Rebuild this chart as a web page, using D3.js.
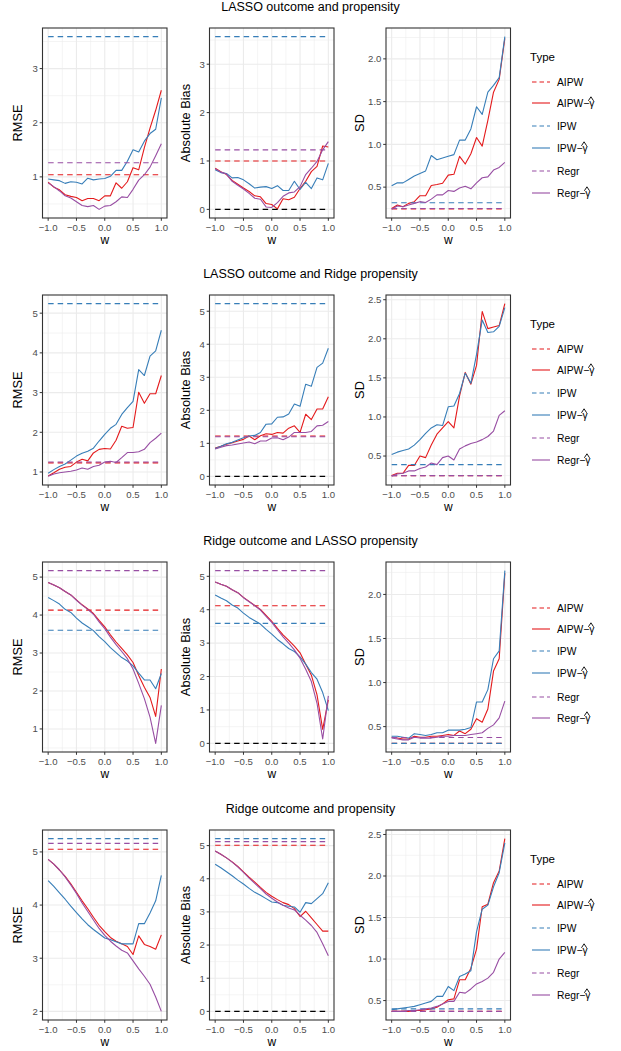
<!DOCTYPE html>
<html>
<head>
<meta charset="utf-8">
<script src="https://cdn.jsdelivr.net/npm/d3@7"></script>
<style>
body { margin: 0; background: #fff; }
text { font-family: "Liberation Sans", Arial, sans-serif; }
</style>
</head>
<body>
<svg id="chart" width="621" height="1051"></svg>
<script>
// weights on the x axis
var w = [-1.0, -0.9, -0.8, -0.7, -0.6, -0.5, -0.4, -0.3, -0.2, -0.1, 0.0, 0.1, 0.2, 0.3, 0.4, 0.5, 0.6, 0.7, 0.8, 0.9, 1.0];
var xTicks = [-1.0, -0.5, 0.0, 0.5, 1.0];

var rowTitles = ['LASSO outcome and propensity', 'LASSO outcome and Ridge propensity',
  'Ridge outcome and LASSO propensity', 'Ridge outcome and propensity'];
var metrics = ['RMSE', 'Absolute Bias', 'SD'];
var typeNames = ['AIPW', 'IPW', 'Regr'];

// baselines (dashed): [AIPW, IPW, Regr]
// ---- LASSO outcome and propensity
var lassoBothRmseBase = [1.04, 3.59, 1.26];
var lassoBothRmseAipw = [0.90, 0.81, 0.76, 0.67, 0.64, 0.62, 0.56, 0.60, 0.60, 0.56, 0.65, 0.65, 0.89, 0.79, 0.91, 1.17, 1.13, 1.54, 1.90, 2.23, 2.60];
var lassoBothRmseIpw = [0.96, 0.945, 0.93, 0.88, 0.91, 0.90, 0.87, 0.975, 0.945, 0.96, 0.97, 1.01, 1.12, 1.12, 1.29, 1.50, 1.46, 1.66, 1.80, 1.88, 2.46];
var lassoBothRmseRegr = [0.89, 0.82, 0.74, 0.65, 0.61, 0.54, 0.47, 0.45, 0.47, 0.40, 0.46, 0.47, 0.54, 0.63, 0.62, 0.77, 0.94, 1.04, 1.18, 1.39, 1.61];
var lassoBothBiasBase = [1.00, 3.57, 1.23];
var lassoBothBiasAipw = [0.85, 0.78, 0.72, 0.60, 0.52, 0.44, 0.37, 0.28, 0.26, 0.12, 0.10, 0.01, 0.22, 0.20, 0.25, 0.43, 0.58, 0.78, 0.89, 1.31, 1.29];
var lassoBothBiasIpw = [0.82, 0.76, 0.74, 0.65, 0.66, 0.61, 0.53, 0.44, 0.46, 0.47, 0.43, 0.49, 0.39, 0.39, 0.58, 0.41, 0.56, 0.43, 0.65, 0.61, 0.95];
var lassoBothBiasRegr = [0.84, 0.77, 0.73, 0.58, 0.50, 0.42, 0.33, 0.23, 0.21, 0.05, 0.04, 0.14, 0.27, 0.34, 0.36, 0.47, 0.72, 0.85, 0.99, 1.23, 1.40];
var lassoBothSdBase = [0.245, 0.317, 0.25];
var lassoBothSdAipw = [0.25, 0.29, 0.27, 0.31, 0.33, 0.40, 0.40, 0.52, 0.53, 0.545, 0.64, 0.65, 0.86, 0.77, 0.89, 1.08, 0.98, 1.28, 1.61, 1.76, 2.24];
var lassoBothSdIpw = [0.515, 0.55, 0.55, 0.59, 0.63, 0.66, 0.69, 0.87, 0.82, 0.84, 0.86, 0.88, 1.05, 1.05, 1.18, 1.44, 1.35, 1.61, 1.69, 1.78, 2.26];
var lassoBothSdRegr = [0.24, 0.28, 0.27, 0.29, 0.31, 0.33, 0.32, 0.36, 0.41, 0.41, 0.46, 0.45, 0.49, 0.51, 0.48, 0.55, 0.61, 0.62, 0.70, 0.73, 0.79];

// ---- LASSO outcome and Ridge propensity
var lassoRidgeRmseBase = [1.23, 5.24, 1.25];
var lassoRidgeRmseAipw = [0.90, 0.98, 1.07, 1.12, 1.14, 1.25, 1.32, 1.28, 1.48, 1.57, 1.59, 1.58, 1.80, 2.15, 2.10, 2.12, 3.01, 2.73, 2.97, 2.97, 3.43];
var lassoRidgeRmseIpw = [0.97, 1.06, 1.14, 1.20, 1.30, 1.40, 1.47, 1.52, 1.60, 1.78, 1.95, 2.10, 2.20, 2.45, 2.62, 2.78, 3.58, 3.43, 3.92, 4.05, 4.57];
var lassoRidgeRmseRegr = [0.89, 0.95, 0.98, 1.00, 1.02, 1.05, 1.10, 1.07, 1.14, 1.17, 1.25, 1.27, 1.24, 1.36, 1.49, 1.49, 1.51, 1.57, 1.74, 1.85, 1.98];
var lassoRidgeBiasBase = [1.22, 5.23, 1.20];
var lassoRidgeBiasAipw = [0.86, 0.91, 0.97, 1.02, 1.07, 1.12, 1.22, 1.11, 1.23, 1.29, 1.27, 1.33, 1.31, 1.46, 1.53, 1.33, 1.88, 1.72, 2.04, 2.04, 2.41];
var lassoRidgeBiasIpw = [0.84, 0.91, 0.99, 1.03, 1.10, 1.17, 1.22, 1.24, 1.33, 1.58, 1.59, 1.79, 1.80, 1.89, 2.19, 2.12, 2.79, 2.73, 3.30, 3.43, 3.88];
var lassoRidgeBiasRegr = [0.83, 0.88, 0.93, 0.95, 0.98, 1.01, 1.04, 0.99, 1.07, 1.07, 1.16, 1.17, 1.11, 1.19, 1.33, 1.33, 1.33, 1.36, 1.53, 1.55, 1.66];
var lassoRidgeSdBase = [0.25, 0.39, 0.25];
var lassoRidgeSdAipw = [0.25, 0.28, 0.28, 0.38, 0.38, 0.50, 0.48, 0.64, 0.78, 0.86, 0.94, 0.86, 1.27, 1.57, 1.42, 1.66, 2.35, 2.13, 2.15, 2.17, 2.45];
var lassoRidgeSdIpw = [0.52, 0.55, 0.57, 0.59, 0.64, 0.71, 0.79, 0.86, 0.90, 0.89, 1.13, 1.14, 1.30, 1.56, 1.43, 1.80, 2.24, 2.08, 2.09, 2.16, 2.40];
var lassoRidgeSdRegr = [0.24, 0.27, 0.28, 0.31, 0.31, 0.34, 0.36, 0.41, 0.39, 0.48, 0.50, 0.45, 0.59, 0.63, 0.66, 0.68, 0.71, 0.75, 0.82, 1.02, 1.08];

// ---- Ridge outcome and LASSO propensity
var ridgeLassoRmseBase = [4.13, 3.60, 5.17];
var ridgeLassoRmseAipw = [4.86, 4.79, 4.72, 4.62, 4.53, 4.40, 4.27, 4.16, 4.04, 3.86, 3.69, 3.48, 3.29, 3.12, 2.95, 2.75, 2.41, 2.10, 1.83, 1.33, 2.58];
var ridgeLassoRmseIpw = [4.46, 4.38, 4.29, 4.15, 4.07, 3.92, 3.79, 3.69, 3.59, 3.43, 3.30, 3.14, 3.01, 2.88, 2.79, 2.66, 2.47, 2.29, 2.29, 2.06, 2.46];
var ridgeLassoRmseRegr = [4.86, 4.79, 4.72, 4.62, 4.53, 4.39, 4.26, 4.15, 4.02, 3.82, 3.64, 3.42, 3.22, 3.04, 2.85, 2.58, 2.20, 1.80, 1.31, 0.62, 1.62];
var ridgeLassoBiasBase = [4.12, 3.59, 5.17];
var ridgeLassoBiasAipw = [4.83, 4.76, 4.70, 4.60, 4.51, 4.37, 4.25, 4.13, 4.01, 3.83, 3.65, 3.44, 3.25, 3.08, 2.91, 2.71, 2.37, 2.04, 1.45, 0.42, 1.30];
var ridgeLassoBiasIpw = [4.44, 4.35, 4.27, 4.14, 4.05, 3.90, 3.77, 3.67, 3.57, 3.41, 3.27, 3.11, 2.98, 2.84, 2.75, 2.59, 2.37, 2.12, 1.92, 1.52, 0.98];
var ridgeLassoBiasRegr = [4.83, 4.76, 4.70, 4.60, 4.51, 4.36, 4.24, 4.12, 3.99, 3.80, 3.62, 3.40, 3.19, 3.00, 2.80, 2.55, 2.22, 1.85, 1.20, 0.13, 1.42];
var ridgeLassoSdBase = [0.31, 0.31, 0.376];
var ridgeLassoSdAipw = [0.38, 0.37, 0.36, 0.36, 0.39, 0.38, 0.38, 0.39, 0.39, 0.40, 0.41, 0.40, 0.45, 0.42, 0.47, 0.59, 0.55, 0.70, 1.13, 1.27, 2.24];
var ridgeLassoSdIpw = [0.39, 0.39, 0.38, 0.37, 0.42, 0.41, 0.40, 0.41, 0.43, 0.43, 0.46, 0.46, 0.46, 0.47, 0.49, 0.78, 0.78, 0.92, 1.27, 1.36, 2.27];
var ridgeLassoSdRegr = [0.37, 0.36, 0.35, 0.35, 0.38, 0.37, 0.37, 0.37, 0.38, 0.39, 0.39, 0.40, 0.40, 0.40, 0.41, 0.42, 0.43, 0.48, 0.52, 0.60, 0.79];

// ---- Ridge outcome and propensity
var ridgeBothRmseBase = [5.05, 5.25, 5.16];
var ridgeBothRmseAipw = [4.86, 4.77, 4.66, 4.54, 4.40, 4.24, 4.08, 3.93, 3.77, 3.62, 3.50, 3.39, 3.32, 3.27, 3.22, 3.07, 3.42, 3.26, 3.22, 3.17, 3.44];
var ridgeBothRmseIpw = [4.46, 4.35, 4.23, 4.11, 3.98, 3.86, 3.74, 3.63, 3.54, 3.46, 3.38, 3.35, 3.31, 3.27, 3.27, 3.27, 3.65, 3.65, 3.85, 4.08, 4.56];
var ridgeBothRmseRegr = [4.86, 4.77, 4.66, 4.53, 4.38, 4.22, 4.04, 3.88, 3.72, 3.56, 3.43, 3.32, 3.23, 3.15, 3.10, 2.95, 2.80, 2.66, 2.51, 2.27, 2.00];
var ridgeBothBiasBase = [5.01, 5.21, 5.12];
var ridgeBothBiasAipw = [4.84, 4.74, 4.63, 4.51, 4.37, 4.21, 4.05, 3.90, 3.74, 3.59, 3.47, 3.37, 3.28, 3.22, 3.10, 2.86, 3.02, 2.82, 2.62, 2.42, 2.42];
var ridgeBothBiasIpw = [4.44, 4.33, 4.21, 4.09, 3.96, 3.84, 3.71, 3.59, 3.50, 3.40, 3.30, 3.28, 3.20, 3.17, 3.15, 2.99, 3.28, 3.25, 3.40, 3.55, 3.88];
var ridgeBothBiasRegr = [4.84, 4.74, 4.63, 4.50, 4.36, 4.19, 4.02, 3.86, 3.70, 3.54, 3.41, 3.30, 3.20, 3.12, 3.06, 2.90, 2.75, 2.59, 2.38, 2.04, 1.68];
var ridgeBothSdBase = [0.37, 0.40, 0.37];
var ridgeBothSdAipw = [0.37, 0.37, 0.37, 0.37, 0.38, 0.38, 0.39, 0.40, 0.42, 0.46, 0.51, 0.52, 0.75, 0.75, 0.89, 1.12, 1.63, 1.66, 1.92, 2.06, 2.45];
var ridgeBothSdIpw = [0.39, 0.40, 0.41, 0.42, 0.43, 0.45, 0.47, 0.49, 0.55, 0.55, 0.67, 0.62, 0.79, 0.82, 0.86, 1.33, 1.60, 1.65, 1.87, 2.04, 2.40];
var ridgeBothSdRegr = [0.37, 0.37, 0.37, 0.38, 0.38, 0.39, 0.40, 0.41, 0.43, 0.46, 0.49, 0.49, 0.60, 0.59, 0.64, 0.70, 0.73, 0.77, 0.84, 1.00, 1.08];

// y tick values per panel
var ticksRmse = [[1, 2, 3], [1, 2, 3, 4, 5], [1, 2, 3, 4, 5], [2, 3, 4, 5]];
var ticksBias = [[0, 1, 2, 3], [0, 1, 2, 3, 4, 5], [0, 1, 2, 3, 4, 5], [0, 1, 2, 3, 4, 5]];
var ticksSd = [[0.5, 1.0, 1.5, 2.0], [0.5, 1.0, 1.5, 2.0, 2.5], [0.5, 1.0, 1.5, 2.0], [0.5, 1.0, 1.5, 2.0, 2.5]];

var colors = ['#E41A1C', '#377EB8', '#984EA3'];

var panelsByRow = [
  [[lassoBothRmseBase, lassoBothRmseAipw, lassoBothRmseIpw, lassoBothRmseRegr],
   [lassoBothBiasBase, lassoBothBiasAipw, lassoBothBiasIpw, lassoBothBiasRegr],
   [lassoBothSdBase, lassoBothSdAipw, lassoBothSdIpw, lassoBothSdRegr]],
  [[lassoRidgeRmseBase, lassoRidgeRmseAipw, lassoRidgeRmseIpw, lassoRidgeRmseRegr],
   [lassoRidgeBiasBase, lassoRidgeBiasAipw, lassoRidgeBiasIpw, lassoRidgeBiasRegr],
   [lassoRidgeSdBase, lassoRidgeSdAipw, lassoRidgeSdIpw, lassoRidgeSdRegr]],
  [[ridgeLassoRmseBase, ridgeLassoRmseAipw, ridgeLassoRmseIpw, ridgeLassoRmseRegr],
   [ridgeLassoBiasBase, ridgeLassoBiasAipw, ridgeLassoBiasIpw, ridgeLassoBiasRegr],
   [ridgeLassoSdBase, ridgeLassoSdAipw, ridgeLassoSdIpw, ridgeLassoSdRegr]],
  [[ridgeBothRmseBase, ridgeBothRmseAipw, ridgeBothRmseIpw, ridgeBothRmseRegr],
   [ridgeBothBiasBase, ridgeBothBiasAipw, ridgeBothBiasIpw, ridgeBothBiasRegr],
   [ridgeBothSdBase, ridgeBothSdAipw, ridgeBothSdIpw, ridgeBothSdRegr]]
];

// layout
var PW = 124.5, PH = 190;
var colLeft = [42.5, 209.5, 386];
var rowTop = [28, 295, 562, 830];
var yTitleX = [18, 186, 360];
var dash = '5.5,4';

var svg = d3.select('#chart');
var fmtMinus = s => s.replace('-', '\u2212');

function drawPanel(g, data, ticks, col, top) {
  var base = data[0], curves = data.slice(1);
  var isBias = col == 1;
  var all = d3.merge(curves).concat(base);
  if (isBias) all.push(0);
  var lo = d3.min(all), hi = d3.max(all), pad = (hi - lo) * 0.05;
  var left = colLeft[col];

  var x = d3.scaleLinear().domain([-1.1, 1.1]).range([left, left + PW]);
  var y = d3.scaleLinear().domain([lo - pad, hi + pad]).range([top + PH, top]);

  // grid
  var step = ticks[1] - ticks[0];
  var yMinor = [ticks[0] - step / 2].concat(ticks.map(t => t + step / 2))
    .filter(v => v > y.domain()[0] && v < y.domain()[1]);
  var xMinor = [-0.75, -0.25, 0.25, 0.75];
  var grid = g.append('g');
  grid.selectAll('.ym').data(yMinor).enter().append('line')
    .attr('x1', left).attr('x2', left + PW).attr('y1', d => y(d)).attr('y2', d => y(d))
    .attr('stroke', '#EBEBEB').attr('stroke-width', 0.55);
  grid.selectAll('.xm').data(xMinor).enter().append('line')
    .attr('y1', top).attr('y2', top + PH).attr('x1', d => x(d)).attr('x2', d => x(d))
    .attr('stroke', '#EBEBEB').attr('stroke-width', 0.55);
  grid.selectAll('.yM').data(ticks).enter().append('line')
    .attr('x1', left).attr('x2', left + PW).attr('y1', d => y(d)).attr('y2', d => y(d))
    .attr('stroke', '#EBEBEB').attr('stroke-width', 1.1);
  grid.selectAll('.xM').data(xTicks).enter().append('line')
    .attr('y1', top).attr('y2', top + PH).attr('x1', d => x(d)).attr('x2', d => x(d))
    .attr('stroke', '#EBEBEB').attr('stroke-width', 1.1);

  var line = d3.line().x((d, i) => x(w[i])).y(d => y(d));

  // series in legend order: AIPW, AIPW-hat, IPW, IPW-hat, Regr, Regr-hat
  for (var k = 0; k < 3; k++) {
    g.append('path')
      .attr('d', line(w.map(() => base[k])))
      .attr('fill', 'none').attr('stroke', colors[k]).attr('stroke-width', 1.1)
      .attr('stroke-dasharray', dash);
    g.append('path')
      .attr('d', line(curves[k]))
      .attr('fill', 'none').attr('stroke', colors[k]).attr('stroke-width', 1.1)
      .attr('stroke-linejoin', 'round');
  }
  if (isBias) {
    g.append('path')
      .attr('d', line(w.map(() => 0)))
      .attr('fill', 'none').attr('stroke', '#000').attr('stroke-width', 1.1)
      .attr('stroke-dasharray', dash);
  }

  // border
  g.append('rect').attr('x', left).attr('y', top).attr('width', PW).attr('height', PH)
    .attr('fill', 'none').attr('stroke', '#333333').attr('stroke-width', 1.1);

  // axes
  var fmt = col == 2 ? d3.format('.1f') : d3.format('d');
  g.selectAll('.yt').data(ticks).enter().append('line')
    .attr('x1', left - 2.8).attr('x2', left).attr('y1', d => y(d)).attr('y2', d => y(d))
    .attr('stroke', '#333333').attr('stroke-width', 1);
  g.selectAll('.yl').data(ticks).enter().append('text')
    .attr('x', left - 4.6).attr('y', d => y(d)).attr('dy', '0.35em')
    .attr('text-anchor', 'end').attr('font-size', 9.6).attr('fill', '#4D4D4D')
    .text(d => fmt(d));
  g.selectAll('.xt').data(xTicks).enter().append('line')
    .attr('y1', top + PH).attr('y2', top + PH + 2.8).attr('x1', d => x(d)).attr('x2', d => x(d))
    .attr('stroke', '#333333').attr('stroke-width', 1);
  g.selectAll('.xl').data(xTicks).enter().append('text')
    .attr('x', d => x(d)).attr('y', top + PH + 12.5)
    .attr('text-anchor', 'middle').attr('font-size', 9.6).attr('fill', '#4D4D4D')
    .text(d => fmtMinus(d3.format('.1f')(d)));

  g.append('text').attr('x', left + PW / 2).attr('y', top + PH + 26)
    .attr('text-anchor', 'middle').attr('font-size', 12).attr('fill', '#000').text('w');
  g.append('text')
    .attr('transform', 'translate(' + yTitleX[col] + ',' + (top + PH / 2) + ') rotate(-90)')
    .attr('dy', '0.35em').attr('text-anchor', 'middle').attr('font-size', 12.8).attr('fill', '#000')
    .text(metrics[col]);
}

function drawLegend(g, top, showTitle) {
  var offs = showTitle ? [54, 75, 98, 120, 143, 165] : [46, 67, 89, 111, 135, 156];
  if (showTitle) {
    g.append('text').attr('x', 530).attr('y', top + 29).attr('dy', '0.35em')
      .attr('font-size', 11.5).attr('fill', '#000').text('Type');
  }
  var items = [];
  typeNames.forEach((n, k) => {
    items.push({ name: n, hat: false, color: colors[k] });
    items.push({ name: n, hat: true, color: colors[k] });
  });
  items.forEach((it, i) => {
    var cy = top + offs[i];
    g.append('line').attr('x1', 532).attr('x2', 550).attr('y1', cy).attr('y2', cy)
      .attr('stroke', it.color).attr('stroke-width', 1.1)
      .attr('stroke-dasharray', it.hat ? null : '4.5,3');
    var t = g.append('text').attr('x', 557).attr('y', cy).attr('dy', '0.35em')
      .attr('font-size', 10.3).attr('fill', '#000');
    if (!it.hat) {
      t.text(it.name);
    } else {
      var pre = t.append('tspan').text(it.name + '\u2212');
      var preLen = pre.node().getComputedTextLength();
      t.append('tspan').text('\u03B3');
      // hat drawn as a small chevron over the gamma
      var hx = 557 + preLen + 1.6;
      g.append('path')
        .attr('d', 'M' + (hx - 2.6) + ',' + (cy - 2.2) + 'L' + hx + ',' + (cy - 6.2) + 'L' + (hx + 2.6) + ',' + (cy - 2.2))
        .attr('fill', 'none').attr('stroke', '#000').attr('stroke-width', 0.9);
    }
  });
}

panelsByRow.forEach((row, r) => {
  var top = rowTop[r];
  var g = svg.append('g').attr('class', 'row-' + r);
  g.append('text').attr('x', 310.5).attr('y', top - 21).attr('dy', '0.35em')
    .attr('text-anchor', 'middle').attr('font-size', 12.5).attr('fill', '#000')
    .text(rowTitles[r]);
  drawPanel(g, row[0], ticksRmse[r], 0, top);
  drawPanel(g, row[1], ticksBias[r], 1, top);
  drawPanel(g, row[2], ticksSd[r], 2, top);
  drawLegend(g, top, r != 2);
});
</script>
</body>
</html>
